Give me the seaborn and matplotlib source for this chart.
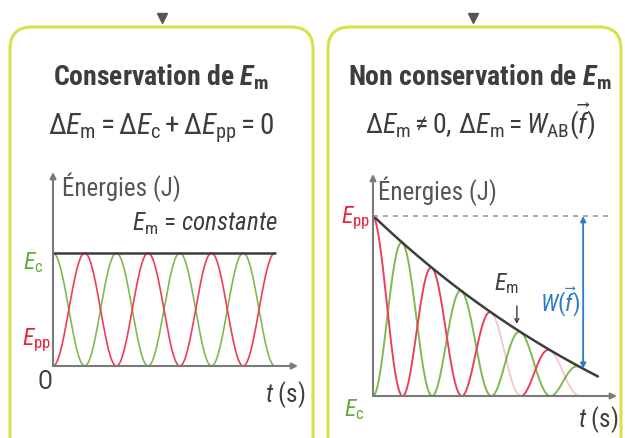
import numpy as np
import pandas as pd
import matplotlib
matplotlib.use('Agg')
import matplotlib.pyplot as plt
from matplotlib.patches import FancyBboxPatch
import seaborn as sns

# --- data ---
# left panel: Em constant, Ec / Epp exchange energy over 3.5 periods
left_periods = 3.5
left_em = 1.0
# right panel: Em read at each peak (half-cycle index), then end of curve
right_t = [0, 1, 2, 3, 4, 5, 6, 7, 7.6]
right_em = [1.0, 0.856, 0.706, 0.583, 0.461, 0.361, 0.244, 0.167, 0.106]
right_end = 7.0                    # last drawn half-cycle
right_faded = [(4, 5), (6, 7)]     # red parts drawn lighter
arrow_t = 7.1                      # where W(f) is measured

GREEN = '#7dbb4f'
RED = '#ee3d58'
GREY = '#3d3d3d'
AXIS = '#7a7a7a'
BLUE = '#2a7cc4'
BORDER = '#d6e24a'

sns.set_style('white')
NARROW = 'Roboto Condensed'
plt.rcParams['font.family'] = [NARROW, 'Liberation Sans', 'DejaVu Sans']
plt.rcParams['mathtext.fontset'] = 'custom'
plt.rcParams['mathtext.rm'] = NARROW
plt.rcParams['mathtext.it'] = NARROW + ':italic'
plt.rcParams['mathtext.bf'] = NARROW + ':bold'
plt.rcParams['mathtext.bfit'] = NARROW + ':italic:bold'
plt.rcParams['mathtext.fallback'] = 'stixsans'

W, H = 625, 439
fig = plt.figure(figsize=(W / 100, H / 100), dpi=100)

# background in pixel coords: boxes, titles, labels
bg = fig.add_axes([0, 0, 1, 1])
bg.set_xlim(0, W)
bg.set_ylim(H, 0)
bg.axis('off')

for x0, x1 in [(10, 313), (328, 621)]:
    bg.add_patch(FancyBboxPatch((x0, 28), x1 - x0, 460, boxstyle='round,pad=0,rounding_size=22',
                                fc='white', ec=BORDER, lw=2.2))
bg.plot([162, 473], [19, 19], marker='v', ls='none', ms=7, color='#555555')


def px_axes(x0, y0, x1, y1):
    return fig.add_axes([x0 / W, 1 - y1 / H, (x1 - x0) / W, (y1 - y0) / H])


def draw_arrows(ax):
    xmax, ymax = ax.get_xlim()[1], ax.get_ylim()[1]
    style = dict(arrowstyle='-|>', color=AXIS, lw=1.5, mutation_scale=9, shrinkA=0, shrinkB=0)
    ax.annotate('', xy=(xmax, 0), xytext=(0, 0), arrowprops=style, annotation_clip=False)
    ax.annotate('', xy=(0, ymax), xytext=(0, 0), arrowprops=style, annotation_clip=False)


# ---------------- left panel ----------------
axL = px_axes(53, 173, 298, 367)
t = np.linspace(0, left_periods, 700)
left_df = pd.DataFrame({
    't': np.concatenate([t, t]),
    'E': np.concatenate([left_em * np.cos(np.pi * t) ** 2, left_em * np.sin(np.pi * t) ** 2]),
    'forme': ['Ec'] * len(t) + ['Epp'] * len(t),
})
sns.lineplot(data=left_df, x='t', y='E', hue='forme', palette={'Ec': GREEN, 'Epp': RED},
             estimator=None, sort=False, legend=False, lw=1.2, ax=axL)
axL.plot([0, left_periods], [left_em, left_em], color=GREY, lw=1.8)
axL.set_xlim(0, 245 / 63.4)
axL.set_ylim(0, 194 / 113)
axL.axis('off')
draw_arrows(axL)

# ---------------- right panel ----------------
axR = px_axes(373, 175, 617, 397)
# smooth envelope through the read values
coef = np.polyfit(right_t, right_em, 3)
t = np.linspace(0, right_end, 900)
env = np.polyval(coef, t)
ec = env * np.sin(np.pi * t / 2) ** 2
epp = env * np.cos(np.pi * t / 2) ** 2
faded = np.zeros(len(t), bool)
for a, b in right_faded:
    faded |= (t >= a) & (t <= b)

green_df = pd.DataFrame({'t': t, 'E': ec})
sns.lineplot(data=green_df, x='t', y='E', color=GREEN, lw=1.4, estimator=None, ax=axR)
red_df = pd.DataFrame({'t': t, 'E': epp, 'seg': np.cumsum(np.r_[0, np.diff(faded.astype(int)) != 0])})
sns.lineplot(data=red_df, x='t', y='E', color=RED, lw=1.3, alpha=0.3, estimator=None, ax=axR)
sns.lineplot(data=red_df[~faded], x='t', y='E', units='seg', color=RED, lw=1.3, estimator=None, ax=axR)
t_em = np.linspace(0, right_t[-1], 300)
sns.lineplot(x=t_em, y=np.polyval(coef, t_em), color=GREY, lw=1.8, estimator=None, ax=axR)
axR.plot([0, 7.94], [1, 1], ls=(0, (3, 3)), color='#9a9a9a', lw=1.2)
arrow_y = float(np.polyval(coef, arrow_t))
axR.annotate('', xy=(arrow_t, 1.0), xytext=(arrow_t, arrow_y),
             arrowprops=dict(arrowstyle='<|-|>', color=BLUE, lw=1.3, mutation_scale=8, shrinkA=0, shrinkB=0))
axR.annotate('', xy=(4.86, 0.40), xytext=(4.86, 0.50),
             arrowprops=dict(arrowstyle='->', color=GREY, lw=1.0, mutation_scale=7, shrinkA=0, shrinkB=0))
axR.set_xlim(0, 244 / 29.6)
axR.set_ylim(0, 222 / 180)
axR.axis('off')
draw_arrows(axR)

# ---------------- texts ----------------
txt = dict(color=GREY, ha='center', va='baseline')
bg.text(161, 86, r'Conservation de $\mathbfit{E}_\mathbf{m}$', fontsize=20, fontweight='bold', **txt)
bg.text(161, 134, r'$\Delta E_\mathrm{m}=\Delta E_\mathrm{c}+\Delta E_\mathrm{pp}=0$', fontsize=21, **txt)
bg.text(480, 86, r'Non conservation de $\mathbfit{E}_\mathbf{m}$', fontsize=20, fontweight='bold', **txt)
bg.text(480, 134, r'$\Delta E_\mathrm{m}\neq 0,\,\Delta E_\mathrm{m}=W_\mathrm{AB}(\vec{f})$', fontsize=20, **txt)

lab = dict(fontsize=18, va='center')
bg.text(62, 187, 'Énergies (J)', color='#555555', ha='left', **lab)
bg.text(132, 224, r'$E_\mathrm{m}$ = $\it{constante}$', color=GREY, ha='left', **lab)
bg.text(33, 263, r'$E_\mathrm{c}$', color='#5fae3a', ha='center', fontsize=17, va='center')
bg.text(36, 340, r'$E_\mathrm{pp}$', color='#e8263f', ha='center', fontsize=17, va='center')
bg.text(45, 382, 'O', color=GREY, ha='center', **lab)
bg.text(285, 395, r'$t$ (s)', color=GREY, ha='center', **lab)

bg.text(378, 191, 'Énergies (J)', color='#555555', ha='left', **lab)
bg.text(355, 218, r'$E_\mathrm{pp}$', color='#e8263f', ha='center', fontsize=17, va='center')
bg.text(354, 410, r'$E_\mathrm{c}$', color='#5fae3a', ha='center', fontsize=17, va='center')
bg.text(598, 420, r'$t$ (s)', color=GREY, ha='center', **lab)
bg.text(506, 284, r'$E_\mathrm{m}$', color=GREY, ha='center', fontsize=17, va='center')
bg.text(560, 302, r'$W(\vec{f})$', color=BLUE, ha='center', fontsize=17, va='center')

fig.savefig('out.png', dpi=100)
